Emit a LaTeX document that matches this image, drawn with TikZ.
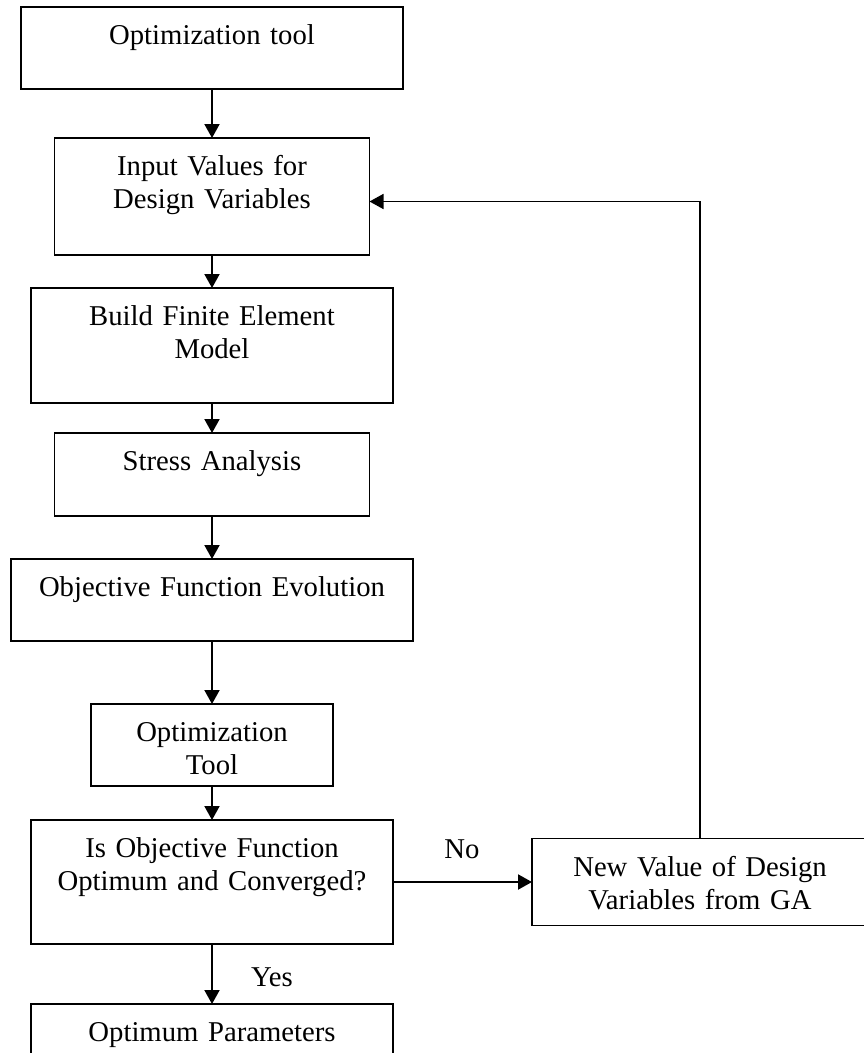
\documentclass[tikz,border=0pt]{standalone}
\usepackage{fontspec}
\setmainfont{Liberation Serif}
\usetikzlibrary{positioning,arrows.meta}

\begin{document}
\begin{tikzpicture}[x=1pt, y=-1pt,
    font=\fontsize{28.7}{33}\selectfont,
    box/.style={draw, line width=1.3pt, text width=#1, align=center, inner sep=0pt, outer sep=0pt, text height=37.5pt},
    flow/.style={line width=2pt, -{Triangle[length=14pt, width=15pt]}}]
    \useasboundingbox (0,0) rectangle (864,1053);
    \node[box=382pt, text depth=44.5pt, anchor=north] (opttool) at (212,7) {Optimization tool};
    \node[box=315pt, text depth=79.5pt, below=49pt of opttool] (input) {Input Values for\\Design Variables};
    \node[box=362pt, text depth=77.5pt, below=33pt of input] (femodel) {Build Finite Element\\Model};
    \node[box=315pt, text depth=45.5pt, below=30pt of femodel] (stress) {Stress Analysis};
    \node[box=402pt, text depth=44.5pt, below=43pt of stress] (objfun) {Objective Function Evolution};
    \node[box=242pt, text depth=44.5pt, below=63pt of objfun] (opttool2) {Optimization\\Tool};
    \node[box=362pt, text depth=86.5pt, below=34pt of opttool2] (conv) {Is Objective Function\\Optimum and Converged?};
    \node[box=362pt, text depth=40pt, below=60pt of conv] (optpar) {Optimum Parameters};
    \node[box=336pt, text depth=49.5pt, right=139pt of conv] (newval) {New Value of Design\\Variables from GA};
    \node (yes) at (272,977) {Yes};
    \node (no) at (462,849) {No};
    \draw[flow] (opttool) -- (input);
    \draw[flow] (input) -- (femodel);
    \draw[flow] (femodel) -- (stress);
    \draw[flow] (stress) -- (objfun);
    \draw[flow] (objfun) -- (opttool2);
    \draw[flow] (opttool2) -- (conv);
    \draw[flow] (conv) -- (optpar);
    \draw[flow] (conv) -- (newval);
    \draw[flow, line width=1.6pt] (newval.north) |- ([yshift=-5pt]input.east);
\end{tikzpicture}
\end{document}
